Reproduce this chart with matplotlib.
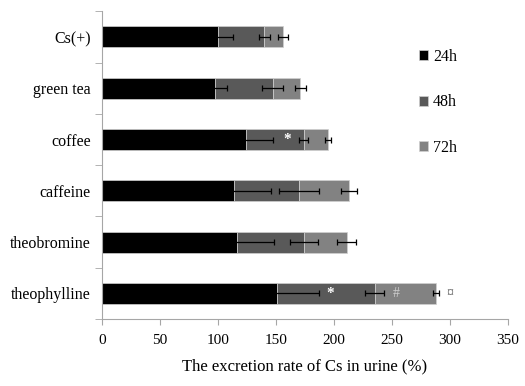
import matplotlib
matplotlib.use('Agg')
import matplotlib.pyplot as plt
from matplotlib.patches import Patch
import numpy as np

plt.rcParams['font.family'] = ['Liberation Serif', 'DejaVu Serif']

# data
groups = ['theophylline', 'theobromine', 'caffeine', 'coffee', 'green tea', 'Cs(+)']
h24 = [151, 116, 114, 124, 97, 100]
h48 = [84, 58, 56, 50, 50, 40]
h72 = [53, 37, 43, 21, 24, 16]
err24 = [36, 32, 32, 23, 11, 13]
err48 = [8, 12, 17, 4, 9, 5]
err72 = [2.5, 8, 7, 2.5, 4.5, 4]
series = ['24h', '48h', '72h']
colors = ['#000000', '#595959', '#828282']

fig = plt.figure(figsize=(5.25, 3.86), dpi=100)
ax = fig.add_axes([0.1943, 0.1736, 0.7733, 0.797])

y = np.arange(len(groups))
left = np.zeros(len(groups))
for vals, errs, c in zip([h24, h48, h72], [err24, err48, err72], colors):
    vals = np.array(vals, dtype=float)
    ax.barh(y, vals, left=left, height=0.41, color=c, edgecolor='#d0d0d0', linewidth=0.5, zorder=2)
    ax.errorbar(left + vals, y, xerr=errs, fmt='none', ecolor='#000000', elinewidth=0.9, capsize=2.5, capthick=0.9, zorder=3)
    left = left + vals

# significance marks
ax.text(160, 3, '*', color='white', ha='center', va='center', fontsize=11, fontweight='bold', zorder=4)
ax.text(197, 0, '*', color='white', ha='center', va='center', fontsize=11, fontweight='bold', zorder=4)
ax.text(254, 0, '#', color='#cfcfcf', ha='center', va='center', fontsize=10, zorder=4)
ax.text(300, 0, '¤', color='#555555', ha='center', va='center', fontsize=10, zorder=4)

ax.set_xlim(0, 350)
ax.set_ylim(-0.5, len(groups) - 0.5)
ax.set_xticks(np.arange(0, 351, 50))
ax.set_yticks(y)
ax.set_yticklabels(groups)
ax.set_yticks(np.arange(-0.5, len(groups), 1), minor=True)
ax.tick_params(axis='y', which='major', length=0, pad=8, labelsize=11.5)
ax.tick_params(axis='y', which='minor', length=5, color='#a6a6a6', direction='out')
ax.tick_params(axis='x', length=4, color='#a6a6a6', labelsize=11, pad=7)
for s in ['top', 'right']:
    ax.spines[s].set_visible(False)
for s in ['left', 'bottom']:
    ax.spines[s].set_color('#a6a6a6')
ax.set_xlabel('The excretion rate of Cs in urine (%)', fontsize=12, labelpad=8)

handles = [Patch(facecolor=c, edgecolor='#d0d0d0', linewidth=0.5) for c in colors]
ax.legend(handles, series, loc='upper left', bbox_to_anchor=(0.745, 0.925), frameon=False,
          handlelength=0.55, handleheight=0.55, handletextpad=0.35, labelspacing=1.85, fontsize=11.5)

fig.savefig('out.png', dpi=100)
